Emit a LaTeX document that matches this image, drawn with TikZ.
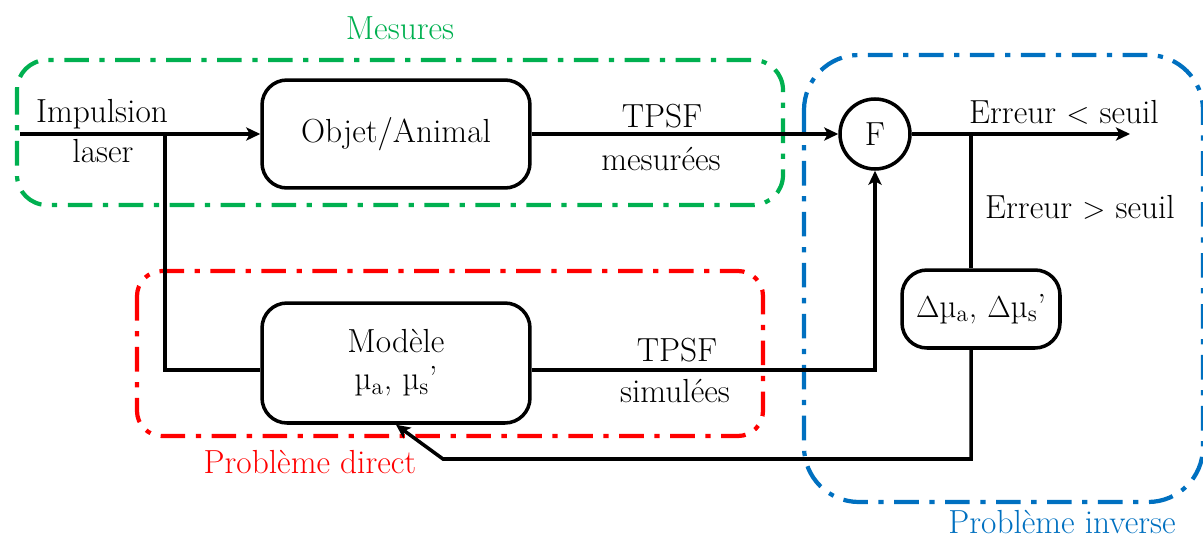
\documentclass[tikz,border=0pt]{standalone}
\usetikzlibrary{arrows.meta}
\definecolor{vert}{RGB}{0,176,80}
\definecolor{rouge}{RGB}{255,0,0}
\definecolor{bleu}{RGB}{0,112,192}
\tikzset{
  bloc/.style={draw, line width=2pt, rounded corners=0.5cm, align=center, inner sep=0pt, font=\fontsize{19}{21}\selectfont},
  zone/.style={line width=2.4pt, dash pattern=on 14pt off 6pt on 3pt off 6pt},
  fleche/.style={line width=2pt, -{Stealth[length=8pt, width=7.5pt, inset=2pt]}},
  lien/.style={line width=2pt},
  lbl/.style={anchor=base, inner sep=0pt, font=\fontsize{19}{21}\selectfont}
}

\begin{document}
\begin{tikzpicture}[x=0.02cm, y=-0.02cm]
            \useasboundingbox (0,0) rectangle (1203,541);
            \draw[zone, vert, rounded corners=0.6cm] (17,60) rectangle (783,205);
            \draw[zone, rouge, rounded corners=0.5cm] (137,271) rectangle (763,436);
            \draw[zone, bleu, rounded corners=1.1cm] (804,55) rectangle (1203,502);
            \node[lbl, vert] (mesures) at (400,39) {Mesures};
            \node[lbl, rouge] (direct) at (310,473) {Problème direct};
            \node[lbl, bleu] (inverse) at (1062,533) {Problème inverse};

            \node[bloc, minimum width=5.36cm, minimum height=2.16cm] (objet) at (396,134) {Objet/Animal};
            \node[bloc, minimum width=5.36cm, minimum height=2.4cm] (modele) at (396,363)
            {Modèle\\\textmu\textsubscript{a}, \textmu\textsubscript{s}’};
            \node[draw, circle, line width=2pt, minimum size=1.4cm, inner sep=0pt,
                  font=\fontsize{19}{21}\selectfont] (F) at (875,134) {F};
            \node[bloc, minimum width=3.16cm, minimum height=1.56cm] (delta) at (981,309)
            {$\Delta$\textmu\textsubscript{a}, $\Delta$\textmu\textsubscript{s}’};

            \coordinate (depart) at (20,134);
            \coordinate (noeud) at (165,134);
            \coordinate (coin) at (165,370);
            \coordinate (sortie) at (1130,134);
            \coordinate (branche) at (971,134);
            \coordinate (retour) at (971,459);
            \coordinate (coude) at (443,459);

            \draw[fleche] (depart) -- (objet);
            \draw[lien] (noeud) -- (coin) -- (modele.west |- coin);
            \draw[fleche] (objet) -- (F);
            \draw[fleche] (modele.east |- coin) -| (F.south);
            \draw[fleche] (F) -- (sortie);
            \draw[lien] (branche) -- (branche |- delta.north);
            \draw[fleche] (branche |- delta.south) -- (retour) -- (coude) -- (modele.south);

            \node[lbl] (impulsion) at (102,122) {Impulsion};
            \node[lbl] (laser) at (103,162) {laser};
            \node[lbl] (tpsfm) at (662,127) {TPSF};
            \node[lbl] (mesurees) at (661,170) {mesurées};
            \node[lbl] (tpsfs) at (677,361) {TPSF};
            \node[lbl] (simulees) at (675,402) {simulées};
            \node[lbl] (inf) at (1064,123) {Erreur $<$ seuil};
            \node[lbl] (sup) at (1080,218) {Erreur $>$ seuil};
        \end{tikzpicture}
\end{document}
